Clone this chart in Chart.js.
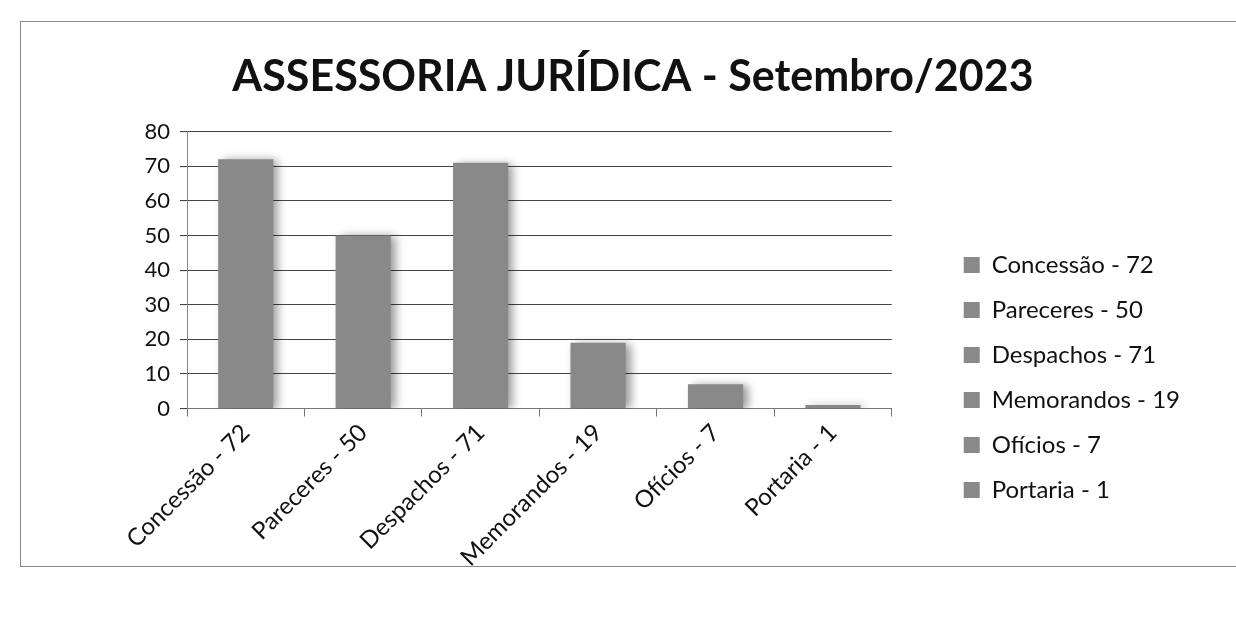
<!DOCTYPE html>
<html>
<head>
<meta charset="utf-8">
<script src="https://cdn.jsdelivr.net/npm/chart.js@4.4.0/dist/chart.umd.min.js"></script>
<style>
    body { margin: 0; background: #fff; }
    .frame {
        position: absolute; left: 20px; top: 21px; width: 1230px; height: 546px;
        border: 1px solid #888; box-sizing: border-box;
    }
    .wrap { position: absolute; left: 0; top: 0; width: 1236px; height: 618px; }
</style>
</head>
<body>
<div class="frame"></div>
<div class="wrap"><canvas id="juridicoChart"></canvas></div>
<script>
// Chart data
const categories = ['Concessão - 72', 'Pareceres - 50', 'Despachos - 71', 'Memorandos - 19', 'Ofícios - 7', 'Portaria - 1'];
const values = [72, 50, 71, 19, 7, 1];
const yTicks = [0, 10, 20, 30, 40, 50, 60, 70, 80];

const barGrey = '#898989';

// soft shadow to the right of the bars, like the Excel original
const barShadow = {
    id: 'barShadow',
    beforeDatasetsDraw(chart) {
        const ctx = chart.ctx;
        ctx.save();
        ctx.shadowColor = 'rgba(0,0,0,0.4)';
        ctx.shadowBlur = 9;
        ctx.shadowOffsetX = 5;
        ctx.shadowOffsetY = 1;
    },
    afterDatasetsDraw(chart) {
        chart.ctx.restore();
    }
};

document.addEventListener('DOMContentLoaded', function() {
    const ctx = document.getElementById('juridicoChart');
    new Chart(ctx, {
        type: 'bar',
        data: {
            labels: categories,
            datasets: [{
                data: values,
                backgroundColor: barGrey,
                barPercentage: 0.47,
                categoryPercentage: 1
            }]
        },
        plugins: [barShadow],
        options: {
            responsive: true,
            maintainAspectRatio: false,
            animation: false,
            layout: { padding: { left: 76, right: 46, top: 51, bottom: 44 } },
            plugins: {
                title: {
                    display: true,
                    text: 'ASSESSORIA JURÍDICA - Setembro/2023',
                    color: '#111',
                    font: { family: 'Lato', size: 43, weight: 'bold' },
                    padding: { top: 0, bottom: 29 }
                },
                legend: {
                    position: 'right',
                    align: 'center',
                    // blank title only pushes the items down
                    title: {
                        display: true,
                        text: ' ',
                        font: { size: 10 },
                        padding: { top: 118, bottom: 0 }
                    },
                    labels: {
                        color: '#111',
                        font: { family: 'Lato', size: 24 },
                        boxWidth: 16,
                        boxHeight: 16,
                        padding: 21,
                        generateLabels: function(chart) {
                            return categories.map(function(c, i) {
                                return {
                                    text: c,
                                    fillStyle: barGrey,
                                    strokeStyle: barGrey,
                                    fontColor: '#111',
                                    lineWidth: 0,
                                    index: i
                                };
                            });
                        }
                    }
                },
                tooltip: { enabled: false }
            },
            scales: {
                x: {
                    grid: {
                        offset: true,
                        drawOnChartArea: false,
                        drawTicks: true,
                        tickLength: 8,
                        color: '#777'
                    },
                    border: { color: '#777' },
                    ticks: {
                        color: '#111',
                        font: { family: 'Lato', size: 24 },
                        maxRotation: 45,
                        minRotation: 45,
                        padding: 2
                    }
                },
                y: {
                    min: 0,
                    max: 80,
                    afterBuildTicks: function(axis) {
                        axis.ticks = yTicks.map(v => ({ value: v }));
                    },
                    afterFit: function(axis) { axis.width = 111; },
                    grid: {
                        color: '#444',
                        lineWidth: 1.1,
                        tickLength: 7
                    },
                    border: { color: '#888' },
                    ticks: {
                        color: '#111',
                        font: { family: 'Lato', size: 22 },
                        padding: 10
                    }
                },
                // empty spacer between the plot and the legend
                gap: {
                    type: 'linear',
                    position: 'right',
                    display: false,
                    afterFit: function(axis) { axis.width = 51; }
                }
            }
        }
    });
});
</script>
</body>
</html>
